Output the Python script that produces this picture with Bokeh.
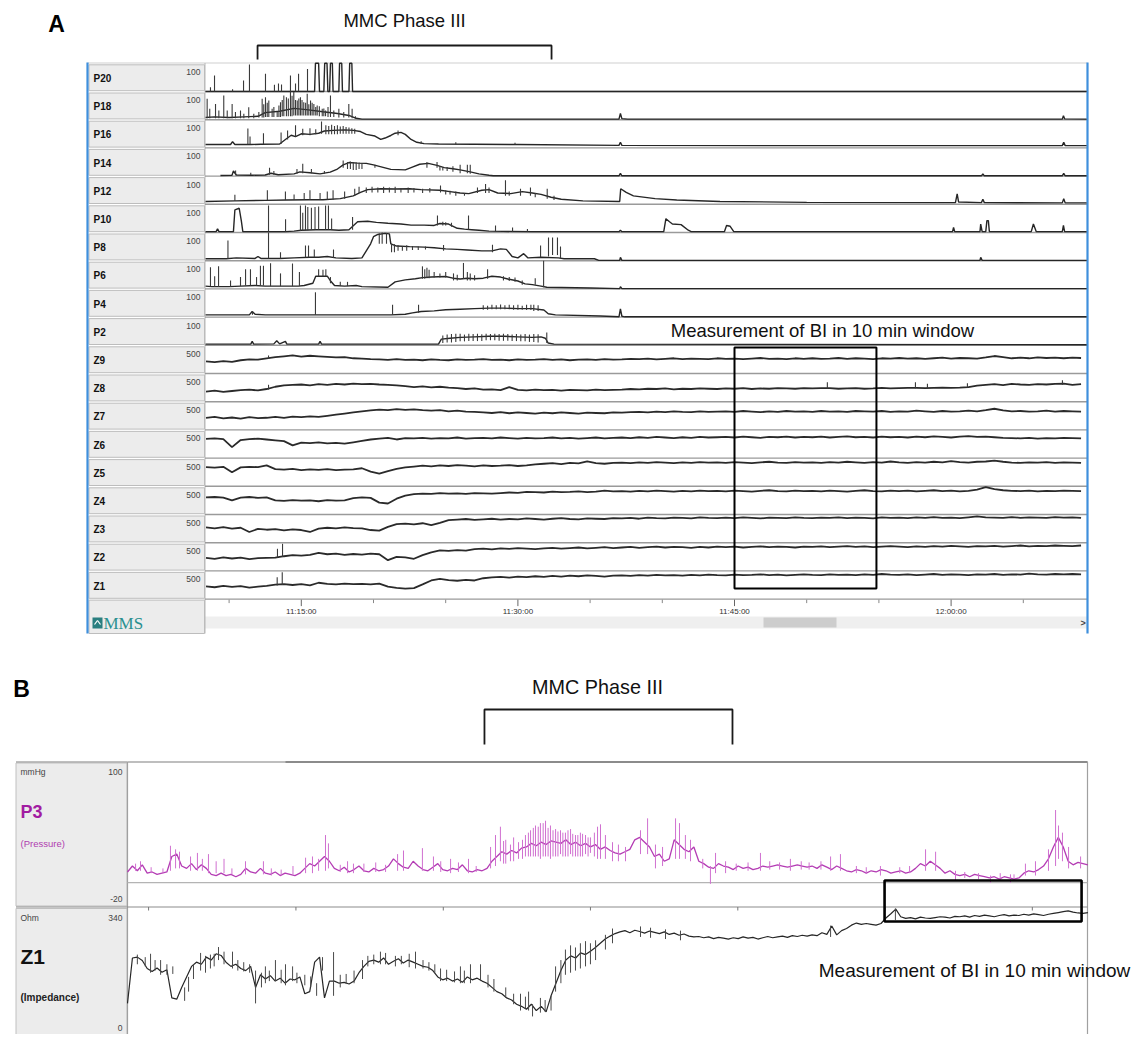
import numpy as np
from bokeh.plotting import figure
from bokeh.models import Range1d
from bokeh.core.properties import value
from bokeh.embed import file_html
from bokeh.resources import INLINE

# =====================================================================  DATA
# ---- Panel A : time in minutes after 11:00:00, pressure rows 0-100, impedance rows 0-500
A_CHANNELS = ["P20", "P18", "P16", "P14", "P12", "P10", "P8", "P6", "P4", "P2",
              "Z9", "Z8", "Z7", "Z6", "Z5", "Z4", "Z3", "Z2", "Z1"]
A_FULL_SCALE = [100, 100, 100, 100, 100, 100, 100, 100, 100, 100,
                500, 500, 500, 500, 500, 500, 500, 500, 500]
A_TICK_MIN = [15, 30, 45, 60]
A_TICK_LABELS = ["11:15:00", "11:30:00", "11:45:00", "12:00:00"]
A_MINOR_MIN = [10, 20, 25, 35, 40, 50, 55, 65]
A_MMC_PHASE3 = [11.97, 32.33]
A_BI_WINDOW = [45.0, 54.83]

# pressure traces: (minute, mmHg) polyline + fast contractions (minute, low, high)
P20_LINE = [(8.37, 0), (15.92, 0), (15.98, 100), (16.2, 100), (16.26, 0), (16.56, 0), (16.62, 100),
            (16.78, 100), (16.84, 0), (16.96, 0), (17.02, 100), (17.15, 100), (17.2, 0), (17.6, 0),
            (17.65, 100), (17.8, 100), (17.85, 0), (18.3, 0), (18.35, 100), (18.5, 100), (18.55, 0),
            (69.38, 0)]
P20_SPK = [(8.71, 0, 15), (8.99, 0, 57), (10.24, 0, 8), (11.0, 0, 39), (11.41, 0, 96), (12.52, 0, 63),
           (13.14, 0, 24), (13.42, 0, 28), (13.63, 0, 25), (14.25, 0, 57), (14.6, 0, 28), (14.81, 0, 63),
           (15.43, 0, 80)]

P18_LINE = [(8.37, 8), (9.0, 10), (10.0, 8), (11.0, 10), (12.0, 12), (12.5, 25), (13.5, 30), (14.5, 40),
            (15.5, 35), (16.5, 28), (17.5, 22), (18.3, 15), (18.8, 5), (19.2, 2), (37.0, 2), (37.1, 22),
            (37.2, 4), (37.6, 2), (67.7, 2), (67.78, 14), (67.86, 3), (69.38, 2)]
P18_SPK = [(8.48, 5, 74), (8.66, 5, 39), (9.06, 5, 56), (9.29, 5, 33), (9.63, 5, 86), (9.87, 5, 33),
           (10.21, 5, 56), (10.44, 5, 27), (10.79, 5, 33), (11.02, 5, 21), (11.36, 5, 44), (11.71, 5, 21),
           (12.06, 8, 27), (12.29, 8, 74), (12.4, 8, 55), (12.52, 10, 80), (12.64, 10, 60), (12.75, 10, 68),
           (12.98, 10, 39), (13.1, 10, 45), (13.33, 10, 27), (13.45, 10, 50), (13.56, 10, 62),
           (13.68, 12, 70), (13.79, 12, 86), (13.97, 12, 80), (14.1, 12, 75), (14.25, 12, 100),
           (14.36, 12, 85), (14.48, 15, 98), (14.6, 15, 70), (14.72, 15, 68), (14.83, 15, 75),
           (14.94, 15, 80), (15.05, 15, 70), (15.17, 15, 62), (15.3, 15, 60), (15.41, 15, 92),
           (15.52, 15, 55), (15.64, 15, 68), (15.75, 15, 60), (15.87, 15, 56), (16.0, 15, 45),
           (16.1, 15, 50), (16.25, 12, 48), (16.45, 12, 39), (16.56, 12, 40), (16.68, 12, 33),
           (16.85, 10, 45), (17.02, 10, 86), (17.25, 10, 33), (17.6, 8, 39), (17.94, 8, 27),
           (18.29, 8, 56), (18.52, 5, 39), (18.75, 3, 12)]

P16_LINE = [(8.37, 12), (10.1, 12), (10.24, 22), (10.4, 12), (11.5, 12), (12.2, 13), (13.5, 14), (13.9, 30),
            (14.3, 45), (14.6, 40), (15.0, 50), (15.6, 48), (16.2, 52), (16.6, 60), (17.2, 62), (18.0, 64),
            (18.6, 62), (19.1, 58), (19.5, 48), (20.1, 42), (20.5, 30), (20.8, 35), (21.2, 44), (21.5, 52),
            (21.9, 55), (22.2, 48), (22.6, 30), (23.0, 20), (23.5, 15), (24.5, 14), (30.0, 12), (37.0, 9),
            (37.1, 20), (37.2, 9), (50.0, 8), (67.7, 8), (67.8, 20), (67.9, 8), (69.38, 8)]
P16_SPK = [(11.3, 13, 69), (11.45, 13, 40), (12.38, 13, 52), (13.6, 14, 55), (14.05, 30, 62), (14.6, 40, 80),
           (15.1, 45, 68), (15.6, 45, 70), (16.0, 48, 66), (16.4, 50, 94), (16.7, 48, 80), (16.9, 48, 78),
           (17.1, 48, 82), (17.3, 48, 78), (17.5, 48, 80), (17.7, 50, 76), (17.9, 50, 78), (18.1, 50, 74),
           (18.3, 50, 72), (18.5, 50, 70), (18.7, 50, 68), (21.7, 45, 62), (23.3, 14, 24), (25.7, 13, 20),
           (29.8, 12, 18)]

P14_LINE = [(9.4, 2), (10.2, 3), (10.3, 18), (10.5, 4), (11.6, 3), (12.5, 4), (12.9, 10), (13.4, 5),
            (14.5, 8), (14.9, 15), (15.6, 12), (16.3, 8), (17.0, 14), (17.5, 25), (17.9, 40), (18.3, 48),
            (18.9, 46), (19.5, 45), (20.0, 40), (20.6, 32), (21.2, 24), (22.2, 22), (22.6, 30), (23.2, 42),
            (23.8, 45), (24.4, 38), (24.9, 30), (25.5, 26), (26.0, 22), (26.7, 15), (27.3, 8), (28.0, 3),
            (28.3, 1), (37.0, 1), (37.1, 10), (37.2, 1), (62.1, 1), (62.2, 8), (62.3, 1), (67.7, 1),
            (67.8, 10), (67.9, 1), (69.38, 1)]
P14_SPK = [(10.45, 3, 20), (11.5, 3, 12), (12.8, 5, 30), (13.1, 5, 18), (14.7, 8, 25), (15.1, 10, 44),
           (15.7, 10, 25), (16.6, 8, 18), (17.9, 30, 55), (18.2, 25, 50), (18.4, 25, 52), (18.6, 22, 50),
           (18.8, 22, 48), (19.0, 25, 48), (19.2, 25, 46), (20.1, 30, 40), (23.7, 30, 50), (24.4, 30, 50),
           (24.6, 20, 36), (24.8, 20, 32), (25.1, 18, 32), (25.5, 15, 35), (26.0, 10, 40), (26.5, 10, 40),
           (26.7, 8, 40)]

P12_LINE = [(8.37, 10), (10.4, 12), (12.5, 14), (14.0, 15), (15.5, 16), (16.5, 16), (17.7, 20), (18.6, 30),
            (19.1, 42), (19.6, 52), (20.5, 55), (21.5, 54), (22.5, 55), (23.3, 52), (24.6, 50), (25.3, 45),
            (26.0, 40), (26.6, 38), (27.5, 50), (28.0, 52), (28.6, 40), (29.5, 38), (30.3, 45), (31.0, 40),
            (31.6, 35), (32.3, 25), (33.0, 18), (34.5, 12), (37.05, 10), (37.12, 55), (37.5, 42),
            (38.0, 30), (39.5, 20), (41.0, 15), (44.0, 10), (50.0, 7), (60.3, 6), (60.42, 37), (60.52, 8),
            (62.1, 6), (62.2, 18), (62.3, 6), (67.7, 5), (67.8, 20), (67.9, 5), (69.38, 5)]
P12_SPK = [(10.4, 12, 34), (12.65, 14, 50), (13.9, 15, 45), (14.5, 15, 35), (15.2, 16, 40), (15.6, 16, 50),
           (16.3, 16, 40), (16.8, 16, 45), (17.2, 16, 50), (18.0, 20, 45), (18.7, 30, 55), (19.0, 40, 62),
           (19.5, 40, 60), (19.9, 42, 62), (20.3, 42, 60), (20.7, 40, 62), (21.1, 42, 60), (21.5, 40, 62),
           (21.9, 42, 58), (22.4, 40, 60), (22.8, 42, 58), (23.4, 40, 55), (23.9, 42, 58), (24.64, 42, 67),
           (25.0, 35, 50), (25.3, 35, 48), (25.7, 30, 45), (26.3, 30, 40), (27.2, 40, 60), (27.76, 40, 72),
           (28.0, 40, 60), (29.14, 30, 85), (29.4, 30, 45), (30.18, 30, 55), (30.87, 30, 60),
           (31.2, 25, 40), (32.03, 20, 55), (32.5, 15, 30)]

P10_LINE = [(8.37, 3), (9.1, 3), (9.2, 13), (9.3, 3), (10.3, 3), (10.4, 80), (10.7, 86), (10.85, 40),
            (10.95, 3), (12.6, 3), (13.9, 3), (14.5, 5), (15.0, 8), (16.0, 10), (17.0, 10), (17.6, 8),
            (18.3, 10), (18.9, 38), (19.6, 40), (20.2, 36), (21.0, 33), (21.9, 30), (22.6, 26), (23.5, 26),
            (24.2, 25), (24.6, 32), (25.2, 30), (25.8, 15), (26.3, 12), (26.8, 10), (27.3, 8), (28.0, 5),
            (29.0, 4), (31.0, 3), (37.0, 3), (37.1, 8), (37.2, 3), (40.1, 3), (40.25, 49), (40.5, 38),
            (40.7, 30), (41.3, 28), (41.8, 8), (42.0, 3), (44.3, 3), (44.45, 25), (44.7, 22), (44.95, 3),
            (60.1, 3), (60.17, 18), (60.25, 3), (62.0, 3), (62.05, 30), (62.15, 3), (62.4, 3), (62.48, 42),
            (62.58, 42), (62.65, 3), (65.55, 3), (65.7, 30), (65.9, 3), (67.7, 3), (67.78, 25), (67.86, 3),
            (69.38, 3)]
P10_SPK = [(12.73, 3, 96), (13.91, 3, 47), (14.94, 5, 96), (15.1, 5, 70), (15.29, 8, 96), (15.45, 8, 90),
           (15.7, 10, 88), (15.95, 10, 90), (16.2, 10, 92), (16.68, 10, 96), (16.88, 10, 96), (17.1, 10, 50),
           (18.55, 10, 55), (24.43, 25, 60), (24.8, 25, 38), (25.0, 25, 36), (25.4, 20, 35), (26.58, 10, 60),
           (28.45, 4, 25), (29.63, 3, 18), (30.66, 3, 12)]

P8_LINE = [(8.37, 7), (9.8, 7), (10.5, 10), (11.8, 8), (12.0, 15), (12.2, 8), (13.5, 8), (14.5, 10),
           (15.6, 12), (16.2, 12), (16.8, 15), (17.4, 10), (18.5, 8), (19.2, 10), (19.5, 35), (19.8, 60),
           (20.0, 85), (20.3, 93), (20.8, 97), (21.1, 95), (21.2, 60), (21.6, 52), (22.5, 50), (23.5, 48),
           (24.2, 46), (25.0, 42), (25.8, 40), (26.5, 38), (27.5, 35), (28.2, 35), (28.8, 42), (29.2, 40),
           (29.6, 15), (30.0, 10), (30.4, 25), (30.7, 10), (31.6, 12), (32.8, 10), (33.2, 7), (35.3, 7),
           (35.6, 1), (37.05, 1), (37.1, 12), (37.2, 1), (62.0, 1), (62.05, 12), (62.15, 1), (69.38, 1)]
P8_SPK = [(9.92, 7, 72), (12.73, 8, 100), (13.56, 8, 30), (15.29, 12, 54), (15.5, 12, 54), (15.9, 12, 40),
          (17.23, 10, 40), (20.4, 60, 97), (20.6, 60, 100), (20.9, 60, 98), (21.25, 30, 60), (21.45, 30, 58),
          (21.7, 35, 55), (22.0, 35, 52), (22.3, 35, 55), (22.7, 38, 52), (23.1, 38, 50), (23.6, 40, 50),
          (24.85, 35, 56), (28.24, 30, 57), (31.57, 12, 54), (32.12, 15, 82), (32.4, 20, 82),
          (32.74, 20, 82), (32.95, 8, 50)]

P6_LINE = [(8.37, 10), (8.8, 8), (9.4, 8), (10.0, 8), (10.8, 10), (11.8, 12), (12.5, 10), (13.2, 10),
           (13.8, 10), (14.8, 10), (15.2, 12), (15.8, 20), (16.0, 45), (16.8, 45), (17.0, 30), (17.3, 12),
           (18.0, 10), (18.8, 12), (19.2, 8), (21.0, 6), (21.5, 25), (22.2, 32), (22.9, 36), (23.4, 40),
           (24.0, 42), (25.0, 44), (25.5, 38), (26.0, 35), (26.5, 38), (27.0, 36), (27.6, 38), (28.2, 45),
           (28.8, 42), (29.3, 35), (30.0, 28), (30.5, 18), (31.0, 15), (31.6, 10), (32.0, 6), (35.0, 3),
           (37.05, 1), (37.1, 8), (37.2, 1), (69.38, 1)]
P6_SPK = [(8.71, 10, 77), (9.0, 8, 45), (9.27, 8, 80), (10.1, 8, 30), (10.79, 10, 42), (11.14, 12, 70),
          (11.48, 12, 70), (11.9, 12, 42), (12.17, 12, 82), (12.38, 12, 82), (12.87, 10, 91), (13.56, 10, 55),
          (14.39, 10, 90), (14.87, 10, 60), (16.2, 45, 70), (16.5, 45, 68), (16.7, 45, 70), (17.02, 20, 42),
          (17.7, 10, 25), (18.2, 10, 25), (23.39, 36, 80), (23.55, 36, 70), (23.7, 38, 75), (23.85, 38, 68),
          (24.2, 40, 60), (24.6, 40, 55), (25.0, 40, 60), (25.54, 30, 55), (25.8, 30, 50), (26.23, 35, 92),
          (26.5, 30, 60), (26.7, 30, 55), (27.0, 30, 48), (27.9, 36, 70), (29.0, 30, 45), (29.4, 28, 42),
          (29.8, 25, 40), (30.3, 15, 30), (31.2, 15, 38), (31.78, 6, 100)]

P4_LINE = [(8.37, 8), (11.4, 8), (11.6, 20), (11.8, 10), (12.5, 8), (21.2, 8), (22.2, 10), (22.7, 15),
           (23.3, 20), (24.2, 22), (25.0, 26), (26.0, 28), (27.0, 30), (28.0, 32), (29.0, 32), (30.0, 30),
           (31.0, 30), (31.8, 25), (32.1, 12), (32.6, 8), (35.7, 4), (37.0, 1), (37.1, 29), (37.2, 3),
           (37.4, 1), (69.38, 1)]
P4_SPK = [(11.62, 8, 22), (15.98, 8, 88), (21.32, 8, 44), (23.12, 15, 44), (27.6, 26, 42), (27.9, 26, 40),
          (28.2, 28, 44), (28.5, 28, 42), (28.8, 28, 45), (29.1, 28, 42), (29.4, 28, 44), (29.7, 26, 42),
          (30.0, 26, 44), (30.3, 26, 40), (30.6, 25, 44), (30.9, 25, 44), (31.1, 22, 44), (31.4, 22, 42)]

P2_LINE = [(8.37, 4), (11.5, 4), (11.6, 14), (11.7, 4), (13.1, 5), (13.3, 16), (13.5, 5), (13.9, 14),
           (14.0, 4), (16.2, 4), (16.3, 14), (16.4, 4), (24.5, 4), (24.7, 22), (25.3, 25), (26.0, 28),
           (27.0, 30), (28.0, 32), (29.0, 32), (30.0, 30), (31.0, 28), (31.6, 30), (31.9, 25), (32.1, 8),
           (32.5, 4), (69.38, 2)]
P2_SPK = [(24.8, 8, 35), (25.1, 10, 38), (25.4, 10, 40), (25.7, 12, 41), (26.0, 14, 41), (26.3, 14, 38),
          (26.6, 15, 41), (26.9, 15, 40), (27.2, 15, 41), (27.5, 15, 39), (27.8, 18, 41), (28.1, 18, 40),
          (28.4, 18, 41), (28.7, 16, 40), (29.0, 16, 41), (29.3, 16, 40), (29.6, 15, 38), (29.9, 15, 40),
          (30.2, 14, 38), (30.5, 14, 40), (30.8, 12, 38), (31.1, 12, 40), (31.4, 10, 39), (32.0, 8, 45)]

# impedance traces (0-500 scale), sampled every 0.6 min from 8.4 min
Z_T0 = 8.4
Z_DT = 0.6
Z9 = [215, 200, 220, 205, 235, 250, 245, 270, 290, 305, 320, 300, 315, 305, 295, 285, 290, 270, 265, 255,
      250, 240, 255, 240, 245, 235, 250, 240, 235, 250, 240, 245, 255, 240, 245, 235, 250, 240, 245, 255,
      240, 250, 235, 245, 250, 240, 255, 245, 250, 260, 255, 265, 250, 260, 270, 255, 265, 260, 255, 270,
      260, 265, 255, 265, 275, 260, 265, 255, 270, 260, 270, 260, 265, 275, 260, 270, 265, 255, 270, 265,
      275, 265, 270, 260, 270, 280, 265, 275, 270, 265, 285, 310, 290, 270, 280, 270, 285, 275, 280, 270,
      280, 275]
Z8 = [180, 195, 175, 190, 205, 215, 200, 225, 265, 290, 300, 305, 290, 310, 300, 315, 305, 320, 310, 315,
      305, 300, 290, 275, 260, 270, 255, 265, 250, 240, 225, 235, 215, 220, 205, 260, 210, 200, 215, 205,
      210, 195, 210, 205, 200, 215, 205, 210, 215, 225, 220, 230, 225, 235, 220, 230, 225, 235, 230, 225,
      235, 230, 240, 225, 235, 230, 240, 235, 230, 240, 235, 240, 240, 230, 235, 240, 230, 235, 245, 235,
      240, 245, 245, 240, 245, 250, 245, 250, 260, 285, 300, 310, 295, 315, 305, 300, 310, 305, 315, 320,
      300, 310]
Z7 = [215, 230, 205, 220, 200, 225, 210, 215, 230, 215, 235, 225, 240, 230, 250, 270, 290, 310, 330, 345,
      360, 350, 370, 355, 365, 350, 340, 350, 330, 340, 325, 320, 310, 300, 315, 295, 310, 300, 290, 305,
      295, 310, 300, 290, 305, 300, 295, 310, 305, 315, 320, 310, 325, 315, 330, 320, 315, 330, 320, 325,
      330, 320, 335, 325, 315, 330, 320, 335, 325, 330, 320, 335, 325, 330, 320, 335, 330, 325, 335, 320,
      330, 325, 340, 330, 320, 335, 325, 330, 340, 330, 350, 375, 345, 330, 335, 325, 330, 340, 325, 335,
      330, 325]
Z6 = [340, 350, 335, 195, 320, 335, 345, 330, 315, 300, 225, 275, 265, 280, 260, 270, 255, 280, 305, 330,
      345, 360, 330, 355, 350, 360, 345, 355, 350, 365, 345, 355, 360, 350, 365, 355, 345, 360, 350, 355,
      365, 350, 360, 345, 355, 365, 350, 360, 365, 355, 370, 360, 375, 365, 355, 370, 360, 375, 365, 370,
      375, 365, 380, 370, 360, 375, 370, 380, 365, 375, 370, 380, 365, 375, 385, 370, 375, 365, 380, 370,
      375, 365, 380, 370, 385, 375, 365, 380, 390, 375, 380, 370, 360, 355, 350, 360, 345, 355, 350, 360,
      355, 350]
Z5 = [340, 330, 345, 250, 335, 345, 340, 370, 305, 295, 310, 285, 300, 290, 305, 285, 295, 300, 320, 260,
      225, 270, 310, 335, 350, 365, 355, 370, 360, 375, 365, 355, 370, 360, 365, 375, 360, 370, 390, 400,
      410, 395, 415, 405, 440, 410, 400, 415, 420, 410, 425, 415, 430, 420, 410, 425, 415, 430, 420, 425,
      415, 430, 420, 410, 425, 435, 420, 415, 430, 420, 425, 415, 430, 420, 435, 425, 415, 430, 420, 440,
      425, 415, 430, 420, 435, 425, 445, 430, 420, 435, 440, 455, 435, 420, 415, 425, 420, 430, 415, 425,
      420, 415]
Z4 = [305, 310, 300, 250, 300, 310, 295, 305, 250, 240, 255, 245, 250, 235, 255, 245, 250, 290, 305, 295,
      210, 195, 280, 335, 360, 370, 365, 380, 370, 375, 365, 380, 375, 370, 380, 390, 385, 400, 395, 390,
      405, 395, 400, 410, 395, 405, 425, 410, 415, 405, 420, 410, 425, 415, 405, 420, 410, 425, 415, 420,
      410, 425, 415, 405, 420, 430, 415, 410, 425, 415, 420, 410, 425, 415, 405, 420, 430, 415, 410, 425,
      415, 425, 410, 420, 430, 415, 425, 410, 420, 440, 485, 450, 430, 420, 415, 425, 410, 420, 415, 425,
      420, 415]
Z3 = [270, 255, 275, 250, 265, 190, 245, 230, 240, 220, 235, 225, 190, 250, 265, 255, 270, 260, 255, 225,
      215, 280, 330, 340, 325, 345, 310, 350, 400, 410, 420, 405, 415, 425, 410, 420, 415, 430, 420, 410,
      425, 435, 420, 415, 430, 425, 420, 435, 430, 440, 425, 445, 435, 430, 445, 440, 430, 450, 440, 435,
      445, 435, 450, 440, 430, 445, 440, 435, 450, 440, 435, 445, 440, 450, 435, 445, 440, 430, 450, 440,
      445, 435, 450, 440, 455, 440, 445, 435, 450, 465, 450, 445, 440, 455, 440, 450, 445, 440, 455, 445,
      450, 440]
Z2 = [230, 215, 240, 220, 235, 210, 225, 230, 235, 260, 280, 270, 285, 320, 295, 305, 285, 300, 290, 305,
      295, 190, 250, 240, 215, 280, 330, 365, 355, 370, 360, 385, 395, 380, 400, 390, 405, 395, 385, 400,
      410, 395, 405, 415, 400, 410, 420, 405, 415, 425, 410, 420, 430, 415, 425, 420, 410, 425, 415, 430,
      420, 430, 415, 425, 435, 420, 430, 425, 415, 430, 425, 435, 420, 430, 440, 425, 435, 420, 430, 440,
      430, 420, 435, 425, 440, 430, 445, 435, 425, 440, 435, 445, 430, 440, 450, 435, 445, 440, 450, 445,
      440, 450]
Z1 = [225, 210, 235, 215, 230, 205, 220, 235, 255, 265, 250, 265, 245, 290, 270, 260, 275, 265, 270, 260,
      275, 220, 200, 185, 195, 260, 330, 360, 335, 325, 340, 330, 370, 385, 395, 380, 400, 390, 405, 395,
      410, 400, 415, 405, 420, 410, 400, 415, 420, 410, 425, 415, 430, 420, 425, 415, 430, 420, 435, 425,
      420, 435, 425, 430, 440, 425, 435, 420, 430, 440, 430, 425, 440, 430, 435, 425, 440, 430, 445, 435,
      430, 440, 425, 435, 445, 430, 440, 435, 425, 440, 435, 445, 430, 440, 435, 450, 440, 435, 445, 440,
      445, 440]
# narrow impedance spikes (minute, low, high)
Z9_SPK = [(12.73, 260, 320)]
Z8_SPK = [(12.73, 215, 300), (51.43, 235, 346), (57.53, 240, 346), (58.36, 240, 317), (61.13, 250, 325),
          (67.71, 300, 380)]
Z2_SPK = [(13.35, 235, 392), (13.70, 245, 480)]
Z1_SPK = [(13.33, 240, 388), (13.68, 250, 477)]

# ---- Panel B : minutes from start of excerpt, sampled every 0.25 min
B_T0 = 0.0
B_DT = 0.25
B_MMC_PHASE3 = [18.12, 30.71]
B_BI_WINDOW = [38.43, 48.43]
B_TICK_MIN = [1.07, 8.55, 16.03, 23.5, 30.98, 38.45, 45.93]
P3 = [9, 14, 10, 15, 8, 9, 7, 8, 9, 22, 24, 14, 12, 16, 11, 15, 12, 7, 6, 8, 6, 7, 5, 7, 12, 9, 8, 12,
      8, 7, 9, 6, 8, 7, 6, 8, 12, 16, 14, 18, 22, 18, 12, 10, 13, 9, 11, 14, 10, 9, 12, 10, 11, 14, 20, 16,
      13, 12, 18, 14, 11, 10, 13, 16, 11, 10, 12, 11, 15, 10, 9, 11, 10, 12, 18, 22, 26, 24, 27, 25, 29,
      30, 33, 31, 34, 32, 35, 34, 33, 36, 32, 34, 31, 33, 30, 32, 28, 30, 27, 25,
      24, 26, 28, 36, 38, 34, 30, 22, 24, 18, 20, 36, 32, 28, 26, 30, 18, 16, 13, 12, 16, 14,
      13, 11, 14, 12, 13, 11, 12, 14, 13, 14, 15, 14, 13, 14, 15, 14, 13, 14, 12, 15, 13, 11, 14, 12,
      10, 9, 11, 10, 8, 10, 9, 11, 10, 8, 9, 10, 8, 9, 12, 16, 14, 18, 15, 12, 8, 10, 7, 6, 7, 5, 7, 6, 5,
      4, 5, 3, 5, 4, 3, 4, 8, 10, 9, 11, 14, 20, 30, 38, 30, 18, 15, 17, 16, 15]
P3_SPK = [(0.41, 10, 16), (0.66, 10, 18), (1.2, 8, 13), (1.8, 8, 12), (2.18, 10, 31), (2.44, 12, 28),
          (2.64, 12, 26), (3.2, 10, 22), (3.55, 10, 25), (3.8, 10, 20), (4.11, 8, 24), (4.5, 8, 18),
          (4.9, 8, 20), (5.3, 7, 12), (5.99, 7, 18), (6.9, 7, 18), (7.3, 6, 12), (7.8, 6, 11), (8.4, 7, 14),
          (9.04, 8, 21), (9.39, 8, 22), (9.7, 10, 20), (10.05, 10, 40), (10.2, 12, 33), (10.8, 9, 15),
          (11.17, 8, 18), (11.47, 8, 16), (12.0, 9, 16), (12.6, 9, 17), (13.1, 9, 15), (13.71, 10, 24),
          (14.01, 10, 27), (14.97, 10, 29), (15.53, 10, 22), (15.9, 9, 18), (16.4, 8, 20), (16.8, 9, 17),
          (17.31, 8, 20), (17.7, 9, 14),
          (18.43, 12, 30), (18.68, 14, 40), (18.93, 18, 47), (19.09, 16, 35), (19.2, 16, 36), (19.44, 18, 32),
          (19.6, 18, 38), (19.85, 20, 34), (20.05, 20, 36), (20.2, 22, 40), (20.35, 22, 42), (20.46, 22, 44),
          (20.6, 22, 46), (20.71, 22, 48), (20.85, 22, 47), (20.96, 20, 50), (21.1, 22, 50), (21.22, 22, 52),
          (21.35, 22, 46), (21.47, 20, 48), (21.6, 22, 44), (21.73, 22, 45), (21.85, 22, 43),
          (21.98, 24, 44), (22.1, 22, 42), (22.23, 22, 42), (22.36, 22, 44), (22.49, 24, 45), (22.6, 22, 41),
          (22.74, 22, 40), (22.86, 22, 40), (22.99, 22, 42), (23.1, 22, 41), (23.25, 24, 40),
          (23.38, 22, 38), (23.5, 25, 38), (23.7, 22, 42), (23.86, 20, 47), (24.01, 20, 49), (24.26, 20, 40),
          (24.62, 18, 34), (24.92, 18, 32), (25.28, 18, 30), (26.04, 24, 44), (26.4, 24, 54), (26.8, 12, 32),
          (27.16, 14, 30), (27.82, 20, 54), (28.02, 20, 50), (28.32, 20, 40), (28.58, 18, 36),
          (29.2, 12, 20), (29.59, -1, 14), (29.85, 8, 25), (30.36, 8, 18), (30.9, 10, 16), (31.5, 10, 17),
          (32.13, 10, 25), (32.6, 11, 18), (33.1, 11, 17), (33.65, 10, 20), (34.2, 11, 18), (34.6, 11, 17),
          (35.2, 11, 18), (35.69, 10, 22), (36.19, 10, 24), (37.0, 8, 14), (37.5, 8, 13), (38.22, 6, 14),
          (39.2, 8, 13), (39.7, 8, 14), (40.51, 10, 28), (41.02, 10, 26), (42.03, 2, 10), (42.5, 4, 9),
          (43.2, 3, 8), (43.81, 0, 6), (44.3, 2, 8), (44.82, 0, 7), (45.0, 2, 7), (45.58, 6, 16),
          (46.09, 6, 18), (46.75, 10, 28), (47.11, 14, 61), (47.26, 20, 48), (47.46, 18, 42), (47.77, 12, 30),
          (48.38, 12, 22)]
Z1B = [112, 220, 222, 214, 195, 188, 196, 186, 192, 125, 122, 150, 175, 200, 210, 205, 222, 215, 230, 226,
       210, 200, 205, 195, 190, 200, 150, 180, 170, 178, 165, 172, 160, 170, 168, 175, 135, 140, 210, 222,
       125, 165, 165, 160, 162, 158, 165, 185, 200, 212, 215, 210, 220, 205, 212, 218, 208, 215, 210,
       205, 200, 198, 190, 175, 168, 172, 165, 170, 162, 175, 168, 172, 165, 160, 150, 140, 135, 125, 120,
       110, 105, 98, 110, 95, 105, 92, 130, 160, 190, 215, 225, 220, 232, 228, 236, 245, 255, 265, 272, 278,
       282, 285, 280, 286, 283, 279, 284, 281, 278, 282, 276, 279, 274, 277, 272, 270, 271, 268, 270, 266,
       269, 267, 265, 268, 266, 270, 267, 269, 265, 268, 271, 268, 270, 272, 269, 273, 271, 274, 272, 275,
       273, 280, 276, 296, 275, 285, 290, 298, 303, 300, 302, 300, 298, 302, 315, 325, 336, 318, 314, 316,
       313, 317, 315, 314, 316, 318, 317, 315, 319, 318, 320, 317, 321, 319, 322, 320, 318, 321, 323, 320,
       322, 321, 324, 322, 325, 323, 321, 324, 326, 328, 330, 332, 329, 327, 326, 328]
Z1B_SPK = [(0.5, 205, 228), (0.9, 200, 222), (1.17, 185, 230), (1.4, 190, 215), (1.68, 180, 215),
           (2.0, 180, 205), (2.3, 182, 200), (2.9, 118, 150), (3.1, 140, 175), (3.35, 170, 205),
           (3.71, 190, 232), (3.96, 185, 225), (4.21, 195, 228), (4.4, 200, 230), (4.62, 215, 246),
           (4.9, 205, 235), (5.33, 195, 235), (5.6, 190, 215), (5.9, 188, 210), (6.2, 185, 205),
           (6.5, 112, 190), (6.8, 150, 185), (7.0, 160, 200), (7.2, 165, 190), (7.51, 165, 215),
           (7.8, 160, 192), (8.02, 155, 205), (8.38, 165, 200), (8.6, 160, 185), (9.0, 155, 180),
           (9.3, 150, 176), (9.6, 130, 160), (9.9, 190, 222), (10.46, 130, 234), (10.8, 150, 180),
           (11.1, 158, 182), (11.5, 160, 190), (11.93, 170, 215), (12.2, 200, 225), (12.5, 205, 228),
           (12.84, 205, 235), (13.1, 205, 232), (13.6, 200, 225), (13.9, 205, 225), (14.3, 198, 230),
           (14.62, 195, 235), (15.0, 195, 215), (15.3, 190, 210), (15.6, 185, 205), (15.89, 165, 195),
           (16.2, 165, 192), (16.6, 162, 188), (16.9, 160, 200), (17.1, 160, 190), (17.41, 160, 205),
           (17.92, 165, 205), (18.3, 150, 180), (18.6, 140, 170), (19.2, 125, 150), (19.6, 110, 135),
           (19.95, 95, 135), (20.2, 100, 128), (20.36, 95, 140), (20.56, 81, 110), (20.96, 90, 125),
           (21.2, 92, 120), (21.5, 95, 130), (21.73, 140, 200), (22.0, 160, 215), (22.23, 180, 240),
           (22.49, 185, 250), (22.74, 190, 245), (22.99, 195, 255), (23.25, 200, 260), (23.5, 205, 255),
           (23.76, 215, 262), (24.26, 240, 275), (24.62, 255, 290), (26.04, 270, 295), (26.55, 268, 292),
           (27.31, 265, 288), (28.07, 262, 285), (35.69, 270, 297), (38.98, 310, 338)]

P_LINES = {"P20": P20_LINE, "P18": P18_LINE, "P16": P16_LINE, "P14": P14_LINE, "P12": P12_LINE,
           "P10": P10_LINE, "P8": P8_LINE, "P6": P6_LINE, "P4": P4_LINE, "P2": P2_LINE}
P_SPIKES = {"P20": P20_SPK, "P18": P18_SPK, "P16": P16_SPK, "P14": P14_SPK, "P12": P12_SPK,
            "P10": P10_SPK, "P8": P8_SPK, "P6": P6_SPK, "P4": P4_SPK, "P2": P2_SPK}
Z_VALUES = {"Z9": Z9, "Z8": Z8, "Z7": Z7, "Z6": Z6, "Z5": Z5, "Z4": Z4, "Z3": Z3, "Z2": Z2, "Z1": Z1}
Z_SPIKES = {"Z9": Z9_SPK, "Z8": Z8_SPK, "Z2": Z2_SPK, "Z1": Z1_SPK}

# =====================================================================  LAYOUT (picture pixels)
W, H = 1132, 1034
PX_L, PX_R, PX_T, PX_B = 0, W, 0, H
FONT = "Liberation Sans"

# panel A geometry
A_ROW_TOP, A_ROW_H = 62.8, 28.2
A_COL_L, A_COL_R, A_DATA_R = 88.5, 204.5, 1086.5
A_PX_0MIN, A_PX_PER_MIN = 84.2, 14.44
# panel B geometry
B_TOP, B_SPLIT, B_LEFT, B_COL_R, B_RIGHT = 761.5, 906.5, 15.5, 127.0, 1087.0
B_PX_0MIN, B_PX_PER_MIN = 127.0, 19.7
B_P3_ZERO, B_P3_UPP = 882.2, 120.0 / 143.0
B_Z1_ZERO, B_Z1_UPP = 1050.0, 340.0 / 143.0

p = figure(width=W, height=H, x_range=Range1d(PX_L, PX_R), y_range=Range1d(PX_B, PX_T),
           x_axis_type=None, y_axis_type=None, toolbar_location=None, output_backend="svg",
           min_border=0, outline_line_color=None, background_fill_color="white",
           border_fill_color="white")

p.extra_x_ranges = {
    "tA": Range1d((PX_L - A_PX_0MIN) / A_PX_PER_MIN, (PX_R - A_PX_0MIN) / A_PX_PER_MIN),
    "tB": Range1d((PX_L - B_PX_0MIN) / B_PX_PER_MIN, (PX_R - B_PX_0MIN) / B_PX_PER_MIN),
}
yr = {}
row_bottoms = []
for k, (name, fs) in enumerate(zip(A_CHANNELS, A_FULL_SCALE)):
    bottom = A_ROW_TOP + A_ROW_H * (k + 1)
    row_bottoms.append(bottom)
    upp = fs / A_ROW_H
    yr[name] = Range1d((bottom - PX_B) * upp, (bottom - PX_T) * upp)
yr["P3"] = Range1d((B_P3_ZERO - PX_B) * B_P3_UPP, (B_P3_ZERO - PX_T) * B_P3_UPP)
yr["Z1B"] = Range1d((B_Z1_ZERO - PX_B) * B_Z1_UPP, (B_Z1_ZERO - PX_T) * B_Z1_UPP)
p.extra_y_ranges = yr


def seg(x0, y0, x1, y1, color, width, **kw):
    p.segment(x0=list(x0), y0=list(y0), x1=list(x1), y1=list(y1), line_color=color,
              line_width=width, **kw)


def txt(x, y, s, size, color="#222222", align="left", bold=False, font=FONT, xr="default",
        baseline="middle"):
    p.text(x=[x], y=[y], text=[s], text_font=value(font), text_font_size=f"{size}px",
           text_color=color, text_align=align, text_baseline=baseline,
           text_font_style="bold" if bold else "normal", x_range_name=xr)


# ---------------------------------------------------------------- panel A chrome
row_tops = [b - A_ROW_H for b in row_bottoms]
p.quad(left=A_COL_L, right=A_COL_R - 0.5, top=[t + 1.5 for t in row_tops],
       bottom=[b - 0.8 for b in row_bottoms], fill_color="#ececec", line_color="#bdbdbd", line_width=1)
last = row_bottoms[-1]
p.quad(left=[A_COL_L], right=[A_COL_R - 0.5], top=[last + 1.0], bottom=[633], fill_color="#ececec",
       line_color="#bdbdbd", line_width=1)
# scroll bar
p.quad(left=[A_COL_R], right=[A_DATA_R], top=[616], bottom=[628], fill_color="#efefef", line_color=None)
p.quad(left=[763], right=[836], top=[617], bottom=[627], fill_color="#cdcdcd", line_color=None)
txt(1080, 622, ">", 9, color="#444444", bold=True)
# frame lines
seg([87], [62.5], [1087], [62.5], "#cfcfcf", 1)
seg([A_COL_R], [62.5], [A_COL_R], [633], "#b8b8b8", 1)
seg([A_COL_R] * len(row_bottoms), row_bottoms, [A_DATA_R] * len(row_bottoms), row_bottoms, "#9a9a9a", 1.4)
seg([87, 1087], [62, 62], [87, 1087], [633, 633], "#3f8fdc", 2.2)
# time axis ticks + labels
seg(A_TICK_MIN, [last + 0.5] * 4, A_TICK_MIN, [last + 7] * 4, "#666666", 1, x_range_name="tA")
seg(A_MINOR_MIN, [last + 0.5] * len(A_MINOR_MIN), A_MINOR_MIN, [last + 4] * len(A_MINOR_MIN),
    "#888888", 1, x_range_name="tA")
p.text(x=A_TICK_MIN, y=[611] * 4, text=A_TICK_LABELS, text_font=value(FONT), text_font_size="8px",
       text_color="#333333", text_align="center", text_baseline="middle", x_range_name="tA")
# MMS logo
p.quad(left=[92], right=[102], top=[617], bottom=[628], fill_color="#2a7f80", line_color=None)
seg([94, 97], [624, 620], [97, 100], [620, 624], "white", 1.2)
txt(103, 623, "MMS", 17, color="#2a9090", font="Liberation Serif")
# channel names and scale labels
for name, fs, t, b in zip(A_CHANNELS, A_FULL_SCALE, row_tops, row_bottoms):
    txt(93, (t + b) / 2 + 1, name, 10, color="#111111", bold=True)
    txt(200, t + 8.5, str(fs), 8.5, color="#444444", align="right")

# ---------------------------------------------------------------- panel A traces
for name in A_CHANNELS:
    if name in P_LINES:
        t, v = zip(*P_LINES[name])
        p.line(list(t), list(v), x_range_name="tA", y_range_name=name, line_color="#262626",
               line_width=1.4)
        st, lo, hi = zip(*P_SPIKES[name])
        seg(st, lo, st, hi, "#3a3a3a", 1.1, x_range_name="tA", y_range_name=name)
    else:
        vals = Z_VALUES[name]
        t = Z_T0 + Z_DT * np.arange(len(vals))
        p.line(t, vals, x_range_name="tA", y_range_name=name, line_color="#2a2a2a", line_width=1.8)
        if name in Z_SPIKES:
            st, lo, hi = zip(*Z_SPIKES[name])
            seg(st, lo, st, hi, "#3a3a3a", 1.1, x_range_name="tA", y_range_name=name)

# ---------------------------------------------------------------- panel A annotations
txt(56, 23, "A", 23, color="#000000", bold=True, align="center")
p.line([A_MMC_PHASE3[0], A_MMC_PHASE3[0], A_MMC_PHASE3[1], A_MMC_PHASE3[1]], [59, 45, 45, 59],
       x_range_name="tA", line_color="#1a1a1a", line_width=1.8)
txt(sum(A_MMC_PHASE3) / 2, 20, "MMC Phase III", 18.5, color="#111111", align="center", xr="tA")
p.quad(left=[A_BI_WINDOW[0]], right=[A_BI_WINDOW[1]], top=[347], bottom=[588], x_range_name="tA",
       fill_color=None, line_color="#000000", line_width=2)
txt(822, 330, "Measurement of BI in 10 min window", 18.5, color="#111111", align="center")

# ---------------------------------------------------------------- panel B chrome
p.quad(left=[B_LEFT], right=[B_COL_R - 0.5], top=[B_TOP + 1], bottom=[B_SPLIT - 1], fill_color="#ececec",
       line_color="#c0c0c0", line_width=1)
p.quad(left=[B_LEFT], right=[B_COL_R - 0.5], top=[B_SPLIT + 1.5], bottom=[PX_B + 2], fill_color="#ececec",
       line_color="#c0c0c0", line_width=1)
seg([B_LEFT, B_COL_R], [B_TOP, B_TOP], [B_COL_R, B_RIGHT], [B_TOP, B_TOP], "#a8a8a8", 1.5)
seg([285], [B_TOP], [B_RIGHT], [B_TOP], "#7a7a7a", 1.5)
seg([B_RIGHT, B_COL_R], [B_TOP, B_TOP], [B_RIGHT, B_COL_R], [PX_B, PX_B], "#a0a0a0", 1.2)
seg([B_COL_R], [B_P3_ZERO], [B_RIGHT], [B_P3_ZERO], "#b4b4b4", 1.2)
seg([B_LEFT], [B_SPLIT], [B_RIGHT], [B_SPLIT], "#8c8c8c", 1.2)
seg(B_TICK_MIN, [B_SPLIT] * len(B_TICK_MIN), B_TICK_MIN, [B_SPLIT + 3.5] * len(B_TICK_MIN), "#777777", 1,
    x_range_name="tB")
txt(20, 771, "mmHg", 8.5, color="#444444")
txt(122, 771, "100", 8.5, color="#444444", align="right")
txt(20, 811, "P3", 18, color="#a21ca2", bold=True)
txt(20, 843, "(Pressure)", 9.5, color="#b03cb0")
txt(122, 898, "-20", 8.5, color="#444444", align="right")
txt(20, 917, "Ohm", 8.5, color="#444444")
txt(122, 917, "340", 8.5, color="#444444", align="right")
txt(20, 956, "Z1", 21, color="#111111", bold=True)
txt(20, 997, "(Impedance)", 10, color="#222222", bold=True)
txt(122, 1027, "0", 8.5, color="#444444", align="right")

# ---------------------------------------------------------------- panel B traces
tb = B_T0 + B_DT * np.arange(len(P3))
p.line(tb, P3, x_range_name="tB", y_range_name="P3", line_color="#b43cb4", line_width=1.3)
st, lo, hi = zip(*P3_SPK)
seg(st, lo, st, hi, "#d070d0", 1.0, x_range_name="tB", y_range_name="P3")
tz = B_T0 + B_DT * np.arange(len(Z1B))
p.line(tz, Z1B, x_range_name="tB", y_range_name="Z1B", line_color="#262626", line_width=1.2)
st, lo, hi = zip(*Z1B_SPK)
seg(st, lo, st, hi, "#4a4a4a", 1.0, x_range_name="tB", y_range_name="Z1B")

# ---------------------------------------------------------------- panel B annotations
txt(21, 688, "B", 23, color="#000000", bold=True, align="center")
p.line([B_MMC_PHASE3[0], B_MMC_PHASE3[0], B_MMC_PHASE3[1], B_MMC_PHASE3[1]], [744, 709, 709, 744],
       x_range_name="tB", line_color="#1a1a1a", line_width=1.8)
txt(597, 686, "MMC Phase III", 19.8, color="#111111", align="center")
p.quad(left=[B_BI_WINDOW[0]], right=[B_BI_WINDOW[1]], top=[880], bottom=[921], x_range_name="tB",
       fill_color=None, line_color="#000000", line_width=2.6)
txt(974, 970, "Measurement of BI in 10 min window", 19, color="#111111", align="center")

open("out.html", "w").write(file_html(p, INLINE))
